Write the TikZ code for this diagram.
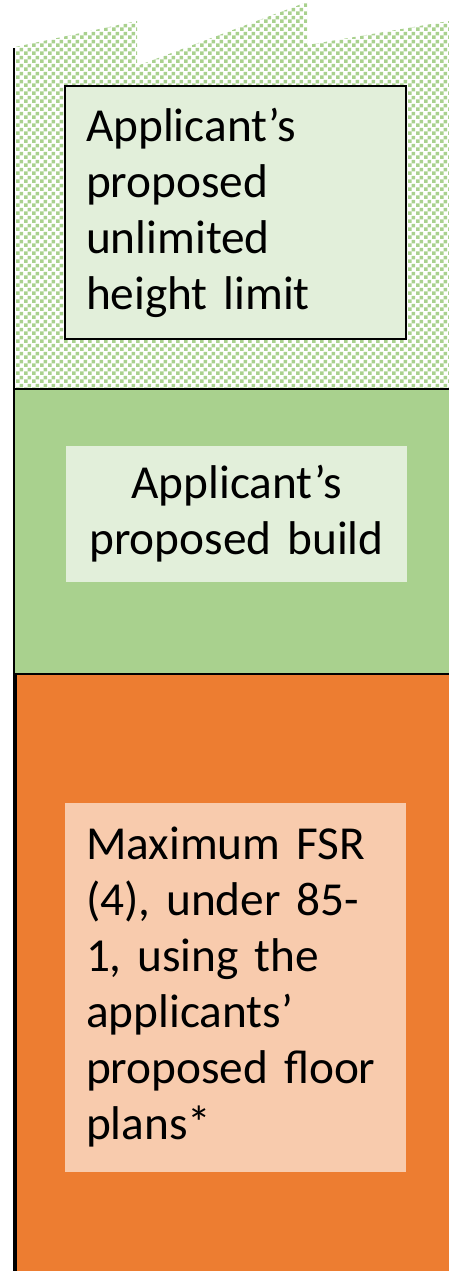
\documentclass[tikz,border=0pt]{standalone}
\usepackage{fontspec}
\setmainfont{Carlito}
\usetikzlibrary{patterns.meta}
\definecolor{chk}{HTML}{A9D18E}
\definecolor{midgreen}{HTML}{A9D18E}
\definecolor{lightgreen}{HTML}{E2EFDA}
\definecolor{orangefill}{HTML}{ED7D31}
\definecolor{lightorange}{HTML}{F8CBAD}
\tikzdeclarepattern{
  name=mycheck,
  type=uncolored,
  bottom left={(0pt,0pt)},
  top right={(6pt,6pt)},
  tile size={(6pt,6pt)},
  code={\fill (0pt,0pt) rectangle (3pt,3pt); \fill (3pt,3pt) rectangle (6pt,6pt);}
}
\tikzset{
  bigtext/.style={font=\fontsize{35.5pt}{42pt}\selectfont},
  textbox/.style={bigtext, inner xsep=15.75pt, inner ysep=0pt, text width=224.25pt,
     minimum width=255.75pt, anchor=north west, outer sep=0pt},
  edge/.style={line width=1.8pt, black}
}
\begin{document}
\begin{tikzpicture}[x=0.75pt,y=-0.75pt]
\useasboundingbox (0,0) rectangle (449,1271);
% checkered top region
\fill[white] (15,47) -- (137,21) -- (137,66) -- (307,2) -- (307,45) -- (449,21) -- (449,389) -- (15,389) -- cycle;
\fill[pattern={mycheck}, pattern color=chk] (15,47) -- (137,21) -- (137,66) -- (307,2) -- (307,45) -- (449,21) -- (449,389) -- (15,389) -- cycle;
% green band
\fill[midgreen] (14,389) rectangle (449,674);
% orange band
\fill[orangefill] (14,674) rectangle (449,1271);
% borders
\coordinate (lt) at (14,48);
\coordinate (lb) at (14,1271);
\draw[edge, line width=1.6pt] (lt) -- (lb);
\coordinate (ol) at (15,674);
\coordinate (olb) at (15,1271);
\draw[line width=3pt] (ol) -- (olb);
\coordinate (h1l) at (13,389);
\coordinate (h1r) at (449,389);
\draw[edge] (h1l) -- (h1r);
\coordinate (h2l) at (13,674);
\coordinate (h2r) at (449,674);
\draw[edge] (h2l) -- (h2r);
% boxes
\node[textbox, draw=black, line width=1.5pt, fill=lightgreen, align=left, minimum height=189.75pt] (b1) at (65,86)
  {Applicant’s\\proposed\\unlimited\\height limit};
\node[textbox, fill=lightgreen, align=center, minimum height=102pt] (b2) at (66,446)
  {Applicant’s\\proposed build};
\node[textbox, fill=lightorange, align=left, minimum height=276.75pt] (b3) at (65,803)
  {Maximum FSR\\(4), under 85-\\1, using the\\applicants’\\proposed floor\\plans*};
\end{tikzpicture}
\end{document}
